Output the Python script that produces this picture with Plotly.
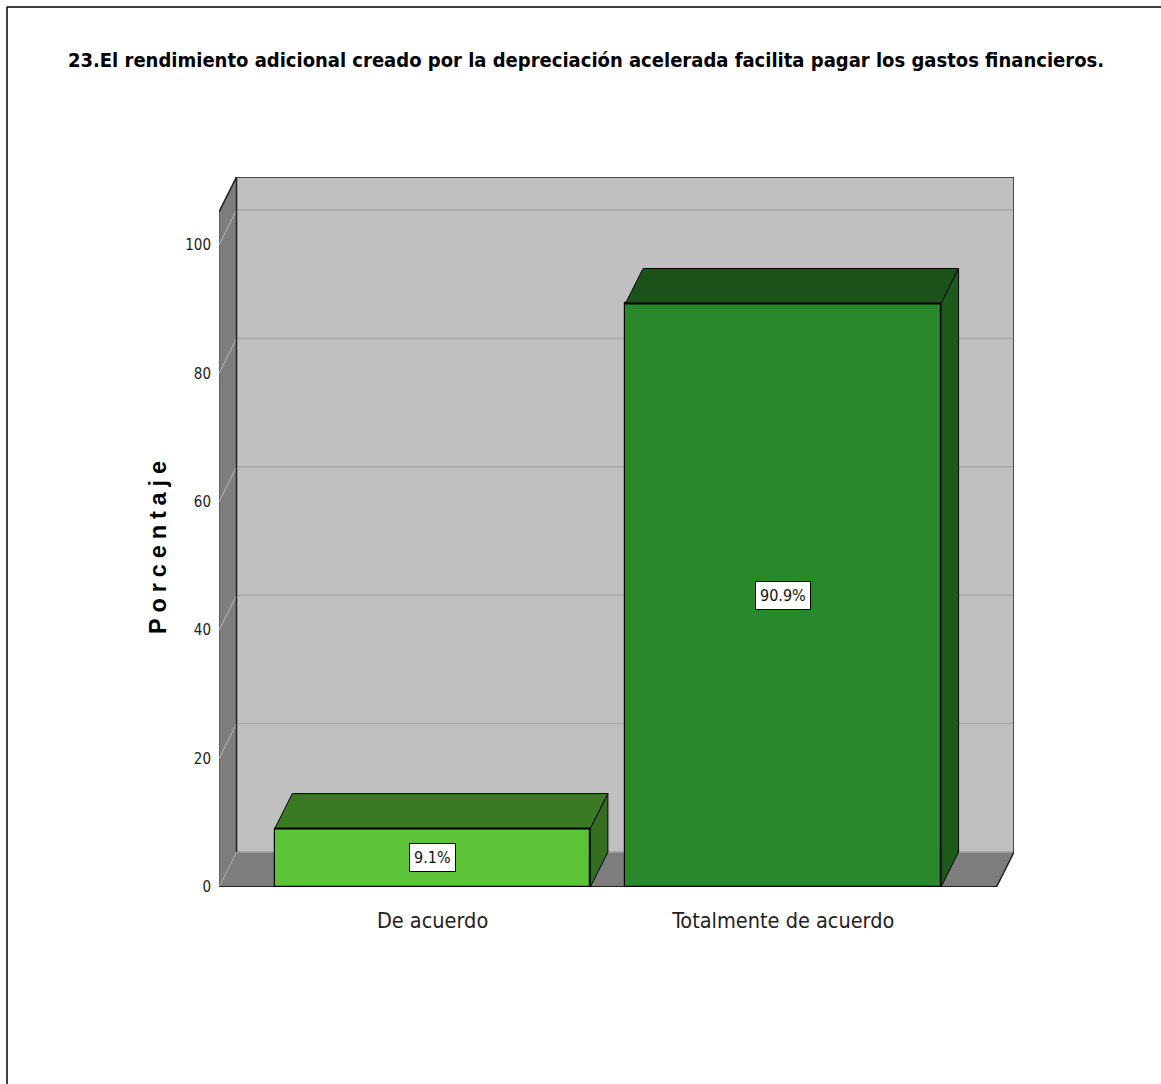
import plotly.graph_objects as go

# Survey question 23: share of answers per category
categories = ["De acuerdo", "Totalmente de acuerdo"]
percentages = [9.1, 90.9]
y_ticks = [0, 20, 40, 60, 80, 100]
title_text = ("23.El rendimiento adicional creado por la depreciación acelerada "
              "facilita pagar los gastos financieros.")
y_title = "Porcentaje"

# colours: front face, top face, side face
front_colors = ["#5DC43A", "#28882A"]
top_colors = ["#3A7A24", "#1A521A"]
side_colors = ["#346E20", "#1B5A1B"]

W, H = 1161, 1084
ML, MR, MT, MB = 219, 147, 177, 197
PW, PH = W - ML - MR, H - MT - MB

# axis ranges and the pseudo-3D depth offset in data units
X0, X1 = -0.609, 1.608          # front plane left / right
DX, DY = 0.05, 5.45             # depth shift (right and up)
YMAX = 110.6
YFRONT_TOP = YMAX - DY
BAR_W = 0.9

WALL = "#C0C0C0"
SIDE_WALL = "#7D7D7D"
NARROW = "Liberation Sans Narrow, DejaVu Sans Condensed, sans-serif"


def px_x(p):
    return (p - ML) / PW


def px_y(p):
    return (H - MB - p) / PH


fig = go.Figure()

shapes = []
# back wall
shapes.append(dict(type="rect", xref="x", yref="y", x0=X0 + DX, x1=X1 + DX, y0=DY, y1=YMAX,
                   fillcolor=WALL, line=dict(width=0), layer="below"))
# left wall
shapes.append(dict(type="path", xref="x", yref="y",
                   path=f"M{X0},0 L{X0},{YFRONT_TOP} L{X0 + DX},{YMAX} L{X0 + DX},{DY} Z",
                   fillcolor=SIDE_WALL, line=dict(color="#4A4A4A", width=1), layer="below"))
# floor
shapes.append(dict(type="path", xref="x", yref="y",
                   path=f"M{X0},0 L{X1},0 L{X1 + DX},{DY} L{X0 + DX},{DY} Z",
                   fillcolor=SIDE_WALL, line=dict(width=0), layer="below"))
# grid lines on the back and left walls
for g in y_ticks[1:]:
    shapes.append(dict(type="line", xref="x", yref="y", x0=X0 + DX, x1=X1 + DX,
                       y0=g + DY, y1=g + DY, line=dict(color="#A9A9A9", width=1.5), layer="below"))
for g in y_ticks:
    shapes.append(dict(type="line", xref="x", yref="y", x0=X0, x1=X0 + DX,
                       y0=g, y1=g + DY, line=dict(color="#B8B8B8", width=1), layer="below"))
# floor back edge
shapes.append(dict(type="line", xref="x", yref="y", x0=X0 + DX, x1=X1 + DX, y0=DY, y1=DY,
                   line=dict(color="#A0A0A0", width=1.5), layer="below"))
# wall edges
edge = dict(color="#222222", width=1.5)
shapes.append(dict(type="line", xref="x", yref="y", x0=X0 + DX, x1=X1 + DX, y0=YMAX, y1=YMAX,
                   line=edge, layer="below"))
shapes.append(dict(type="line", xref="x", yref="y", x0=X1 + DX, x1=X1 + DX, y0=DY, y1=YMAX,
                   line=edge, layer="below"))
shapes.append(dict(type="line", xref="x", yref="y", x0=X0 + DX, x1=X0 + DX, y0=DY, y1=YMAX,
                   line=edge, layer="below"))
shapes.append(dict(type="line", xref="x", yref="y", x0=X0, x1=X0 + DX, y0=YFRONT_TOP, y1=YMAX,
                   line=edge, layer="below"))
shapes.append(dict(type="line", xref="x", yref="y", x0=X0, x1=X1, y0=0, y1=0,
                   line=dict(color="#222222", width=2), layer="below"))
shapes.append(dict(type="line", xref="x", yref="y", x0=X1, x1=X1 + DX, y0=0, y1=DY,
                   line=edge, layer="below"))
# outer frame (left and top sides)
shapes.append(dict(type="line", xref="paper", yref="paper", x0=px_x(7), x1=px_x(7),
                   y0=px_y(7), y1=px_y(H + 10), line=dict(color="black", width=1.5)))
shapes.append(dict(type="line", xref="paper", yref="paper", x0=px_x(7), x1=px_x(W + 10),
                   y0=px_y(7), y1=px_y(7), line=dict(color="black", width=1.5)))

# front faces of the bars
fig.add_trace(go.Bar(
    x=list(range(len(categories))), y=percentages, width=BAR_W,
    marker=dict(color=front_colors, line=dict(color="black", width=1.2)),
    hoverinfo="skip", showlegend=False,
))

# top and side faces of each bar
for i, v in enumerate(percentages):
    xl, xr = i - BAR_W / 2, i + BAR_W / 2
    fig.add_trace(go.Scatter(
        x=[xl, xr, xr + DX, xl + DX, xl], y=[v, v, v + DY, v + DY, v],
        mode="lines", fill="toself", fillcolor=top_colors[i],
        line=dict(color="black", width=1), hoverinfo="skip", showlegend=False,
    ))
    fig.add_trace(go.Scatter(
        x=[xr, xr, xr + DX, xr + DX, xr], y=[0, v, v + DY, DY, 0],
        mode="lines", fill="toself", fillcolor=side_colors[i],
        line=dict(color="black", width=1), hoverinfo="skip", showlegend=False,
    ))
    # stronger front edge along the top of the bar
    fig.add_trace(go.Scatter(
        x=[xl, xr], y=[v, v], mode="lines",
        line=dict(color="black", width=2), hoverinfo="skip", showlegend=False,
    ))

annotations = []
for i, v in enumerate(percentages):
    annotations.append(dict(
        x=i, y=v / 2, xref="x", yref="y", text=f"{v:.1f}%", showarrow=False,
        font=dict(family=NARROW, size=16, color="#111111"),
        bgcolor="white", bordercolor="black", borderwidth=1, borderpad=4,
    ))

spaced_title = "\u2005".join(y_title)
annotations.append(dict(
    x=px_x(143), y=px_y(548), xref="paper", yref="paper", text=f"<b>{spaced_title}</b>",
    textangle=-90, showarrow=False,
    font=dict(family="Liberation Sans, Arial, sans-serif", size=23.5, color="black"),
))

fig.update_layout(
    width=W, height=H, autosize=False,
    margin=dict(l=ML, r=MR, t=MT, b=MB),
    paper_bgcolor="white", plot_bgcolor="rgba(0,0,0,0)",
    title=dict(
        text=f"<b>{title_text}</b>", x=586 / W, xanchor="center", xref="container",
        y=1 - 60 / H, yanchor="middle", yref="container",
        font=dict(family=NARROW, size=20, color="black"),
    ),
    xaxis=dict(
        range=[X0, X1 + DX], tickmode="array", tickvals=list(range(len(categories))),
        ticktext=categories, showgrid=False, zeroline=False, showline=False,
        ticks="outside", ticklen=14, tickcolor="rgba(0,0,0,0)",
        tickfont=dict(family=NARROW, size=21.5, color="#222222"),
        fixedrange=True,
    ),
    yaxis=dict(
        range=[0, YMAX], tickmode="array", tickvals=y_ticks,
        ticktext=[str(t) for t in y_ticks], showgrid=False, zeroline=False, showline=False,
        ticks="outside", ticklen=4, tickcolor="rgba(0,0,0,0)",
        tickfont=dict(family=NARROW, size=15, color="#222222"),
        fixedrange=True,
    ),
    shapes=shapes,
    annotations=annotations,
    bargap=0,
)

fig.write_html("out.html", config={"displayModeBar": False})
